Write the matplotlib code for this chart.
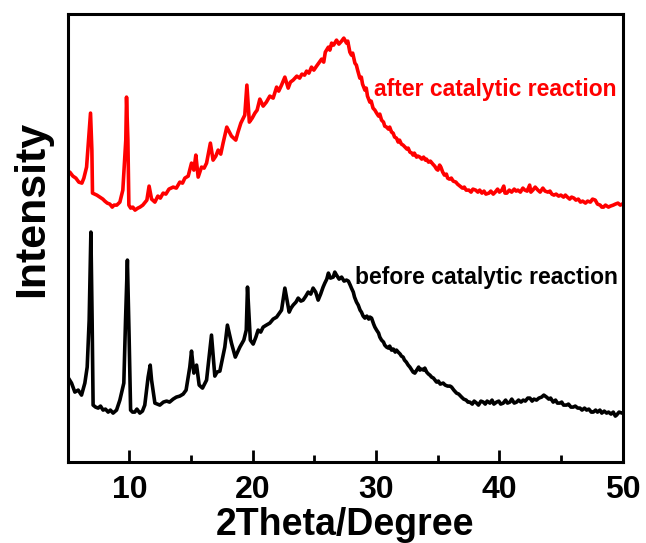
import matplotlib
matplotlib.use('Agg')
import matplotlib.pyplot as plt
from matplotlib.ticker import MultipleLocator

plt.rcParams['font.family'] = ['Liberation Sans', 'DejaVu Sans']
plt.rcParams['font.weight'] = 'bold'

# XRD patterns, intensity in arbitrary units
theta_after = [5.00, 5.16, 5.41, 5.65, 5.89, 6.14, 6.30, 6.52, 6.62, 6.84, 6.95, 7.00, 7.35, 7.60,
               7.84, 8.00, 8.20, 8.41, 8.60, 8.75, 8.97, 9.22, 9.46, 9.70, 9.76, 9.87, 9.95, 10.10,
               10.27, 10.45, 10.68, 10.85, 11.08, 11.41, 11.59, 11.79, 12.06, 12.30, 12.50, 12.73,
               12.95, 13.20, 13.54, 13.80, 14.08, 14.30, 14.49, 14.76, 15.03, 15.22, 15.38, 15.57,
               15.84, 16.05, 16.25, 16.56, 16.78, 17.00, 17.19, 17.40, 17.59, 17.89, 18.27, 18.62,
               18.80, 19.03, 19.35, 19.52, 19.72, 19.95, 20.17, 20.35, 20.57, 20.84, 21.10, 21.38,
               21.65, 21.93, 22.10, 22.33, 22.60, 22.87, 23.05, 23.27, 23.57, 23.80, 23.98, 24.20,
               24.36, 24.55, 24.76, 24.95, 25.17, 25.35, 25.58, 25.75, 25.88, 26.13, 26.25, 26.39,
               26.55, 26.79, 26.98, 27.20, 27.38, 27.60, 27.70,
               27.87, 28.00, 28.10, 28.28, 28.40, 28.50, 28.68, 28.80, 28.90, 29.09, 29.20, 29.30,
               29.49, 29.60, 29.75, 29.90, 30.04, 30.20, 30.30, 30.44, 30.60, 30.70, 30.85, 31.00,
               31.10, 31.25, 31.38, 31.50, 31.65, 31.79, 31.90, 32.05, 32.19, 32.35, 32.50, 32.60,
               32.74, 32.90, 33.00, 33.10, 33.28, 33.40, 33.55, 33.70, 33.85, 34.00, 34.08, 34.25,
               34.40, 34.60, 34.75, 34.90, 35.01, 35.15, 35.25, 35.40, 35.54, 35.70, 35.80, 35.94,
               36.10, 36.25, 36.47, 36.60, 36.80, 37.00, 37.15, 37.30, 37.52, 37.70, 37.85, 38.07,
               38.25, 38.40, 38.58, 38.75, 38.90, 39.15, 39.30, 39.50, 39.66, 39.85, 40.00, 40.20,
               40.35, 40.45, 40.60, 40.80, 40.99, 41.20, 41.35, 41.50, 41.70, 41.90, 42.06, 42.25,
               42.45, 42.55, 42.71, 42.90, 43.12, 43.30, 43.52, 43.70, 43.93, 44.10, 44.25, 44.42,
               44.60, 44.80, 44.98, 45.20, 45.35, 45.51, 45.70, 45.85, 46.04, 46.20, 46.40, 46.57,
               46.75, 46.98, 47.15, 47.38, 47.55, 47.77, 47.95, 48.17, 48.30, 48.44, 48.60, 48.84,
               49.00, 49.23, 49.40, 49.61, 49.80, 49.95]
int_after = [287, 290, 286, 284, 280, 279, 284, 295, 312, 349, 312, 269, 267, 265,
             263, 261, 259, 258, 255, 257, 257, 260, 272, 322, 365, 322, 257, 254,
             255, 252, 254, 255, 257, 262, 276, 263, 260, 266, 264, 269,
             268, 273, 275, 274, 280, 279, 284, 286, 299, 292, 307, 285,
             295, 294, 299, 319, 302, 306, 312, 308, 319, 335, 326, 322,
             330, 339, 347, 377, 340, 344, 349, 352, 363, 356, 360, 366,
             364, 375, 371, 377, 385, 374, 380, 382, 386, 384, 388, 387,
             391, 389, 395, 392, 396, 399, 403, 400, 410, 415, 412, 419,
             417, 422, 418, 421, 424, 419, 421,
             410, 407, 409, 399, 397, 392, 384, 385, 378, 372, 374, 366,
             360, 361, 354, 352, 349, 346, 348, 342, 340, 336, 335, 333,
             335, 330, 329, 325, 324, 320, 322, 318, 317, 315, 313, 314,
             310, 309, 307, 309, 305, 306, 305, 303, 305, 302, 303, 300,
             301, 298, 296, 293, 292, 297, 295, 290, 287, 288, 284, 283,
             284, 281, 280, 278, 276, 274, 275, 272, 272, 270, 273, 272,
             270, 272, 269, 271, 268, 269, 271, 268, 270, 273, 270, 272,
             276, 269, 269, 272, 270, 273, 271, 272, 270, 274, 272, 271,
             277, 270, 272, 275, 272, 270, 274, 271, 270, 271, 268, 267,
             268, 266, 267, 265, 267, 265, 263, 265, 264, 262, 263, 260,
             261, 259, 261, 260, 263, 262, 258, 257, 255, 255, 257, 255,
             256, 257, 258, 259, 257, 258]

theta_before = [5.05, 5.30, 5.57, 5.84, 6.11, 6.38, 6.57, 6.73, 6.87, 6.97, 7.05, 7.25, 7.46,
                7.65, 7.86, 8.05, 8.27, 8.45, 8.67, 8.95, 9.22, 9.54, 9.68, 9.83, 9.97, 10.09,
                10.25, 10.43, 10.60, 10.84, 11.05, 11.24, 11.51, 11.68, 11.79, 12.06, 12.25,
                12.46, 12.75, 13.01, 13.25, 13.54, 13.80, 14.08, 14.35, 14.59, 14.89, 15.03,
                15.22, 15.44, 15.65, 15.92, 16.25, 16.65, 16.92, 17.10, 17.33, 17.73, 17.94,
                18.27, 18.58, 18.95, 19.27, 19.47, 19.57, 19.80, 20.03, 20.25, 20.43, 20.64,
                20.84, 21.10, 21.38, 21.65, 21.93, 22.10, 22.33, 22.60, 22.95, 23.10, 23.27,
                23.50, 23.68, 23.90, 24.08, 24.30, 24.49, 24.70, 24.89, 25.10, 25.30, 25.50,
                25.70, 25.84, 26.00, 26.13, 26.30, 26.52, 26.65, 26.79, 27.00, 27.20, 27.40,
                27.60, 27.75, 27.90, 28.00, 28.15, 28.25, 28.41, 28.55, 28.70, 28.81, 28.95,
                29.09, 29.25, 29.40, 29.50, 29.63, 29.80, 29.90, 30.04, 30.20, 30.30, 30.44,
                30.60, 30.70, 30.85, 31.00, 31.10, 31.25, 31.40, 31.55, 31.65, 31.79, 31.95,
                32.05, 32.19, 32.30, 32.45, 32.60, 32.74, 32.90, 33.00, 33.14, 33.30, 33.45,
                33.55, 33.70, 33.85, 33.95, 34.10, 34.25, 34.36, 34.50, 34.65, 34.90, 35.05,
                35.20, 35.44, 35.60, 35.80, 36.00, 36.12, 36.30, 36.52, 36.70, 36.93, 37.10,
                37.30, 37.45, 37.60, 37.80, 37.95, 38.15, 38.30, 38.50, 38.69, 38.85, 39.00,
                39.23, 39.40, 39.55, 39.77, 39.95, 40.10, 40.31, 40.50, 40.65, 40.85, 41.00,
                41.20, 41.39, 41.55, 41.75, 41.93, 42.10, 42.30, 42.47, 42.65, 42.80, 43.01,
                43.20, 43.42, 43.60, 43.82, 44.00, 44.15, 44.36, 44.55, 44.70, 44.90, 45.05,
                45.20, 45.44, 45.60, 45.80, 45.98, 46.15, 46.35, 46.53, 46.70, 46.90, 47.07,
                47.25, 47.45, 47.61, 47.80, 47.95, 48.15, 48.30, 48.50, 48.69, 48.85, 49.05,
                49.23, 49.40, 49.50, 49.70, 49.95]
int_before = [84, 79, 70, 72, 67, 79, 95, 142, 230, 142, 57, 55, 54,
              56, 52, 53, 50, 52, 49, 52, 62, 79, 142, 202, 125, 52,
              50, 50, 53, 49, 51, 57, 85, 97, 82, 59, 58,
              57, 60, 61, 60, 63, 65, 66, 68, 72, 95, 111,
              89, 97, 77, 74, 82, 127, 86, 90, 91, 115, 137,
              119, 105, 115, 122, 132, 175, 122, 118, 125, 132, 130,
              135, 137, 139, 143, 145, 148, 152, 174, 150, 154, 157,
              160, 164, 161, 162, 166, 170, 168, 174, 170, 162, 168,
              175, 179, 183, 189, 184, 185, 190, 187, 183, 185, 181,
              182, 181, 177, 174, 170, 165, 160, 157, 152, 150, 146,
              144, 146, 143, 145, 144, 138, 135, 132, 129, 125, 122,
              120, 117, 115, 114, 116, 112, 113, 110, 112, 110, 108,
              106, 105, 102, 100, 97, 95, 92, 90, 89, 92, 95,
              92, 93, 92, 94, 90, 88, 87, 85, 84, 80, 81,
              78, 79, 77, 76, 76, 75, 72, 69, 68, 65, 63,
              62, 60, 60, 58, 61, 59, 57, 61, 60, 58, 61,
              59, 62, 58, 60, 61, 58, 59, 62, 59, 60, 63,
              59, 60, 62, 60, 62, 61, 64, 64, 61, 63, 62,
              64, 65, 67, 65, 63, 64, 60, 62, 59, 59, 60,
              57, 57, 58, 55, 55, 56, 54, 54, 52, 54, 52,
              53, 50, 50, 52, 50, 52, 49, 51, 49, 50, 48,
              50, 46, 47, 50, 49]

fig = plt.figure(figsize=(6.46, 5.43), dpi=100)
ax = fig.add_axes([0.105, 0.149, 0.859, 0.825])

ax.plot(theta_after, int_after, color='#ff0000', lw=2.6)
ax.plot(theta_before, int_before, color='black', lw=2.6)

ax.text(29.8, 373, 'after catalytic reaction', color='#ff0000', fontsize=16.5,
        fontweight='bold', ha='left', va='center')
ax.text(28.3, 185, 'before catalytic reaction', color='black', fontsize=16.5,
        fontweight='bold', ha='left', va='center')

ax.set_xlim(5, 50)
ax.set_ylim(0, 448)
ax.xaxis.set_major_locator(MultipleLocator(10))
ax.xaxis.set_minor_locator(MultipleLocator(5))
ax.tick_params(axis='x', which='major', direction='in', length=9, width=2,
               labelsize=23, pad=9)
ax.tick_params(axis='x', which='minor', direction='in', length=5, width=2)
ax.set_yticks([])
for lab in ax.get_xticklabels():
    lab.set_fontweight('bold')
for sp in ax.spines.values():
    sp.set_linewidth(2.2)

ax.set_xlabel('2Theta/Degree', fontsize=27, fontweight='bold', labelpad=1.5)
ax.set_ylabel('Intensity', fontsize=31, fontweight='bold')
ax.yaxis.set_label_coords(-0.028, 0.565)

fig.savefig('out.png', dpi=100)
